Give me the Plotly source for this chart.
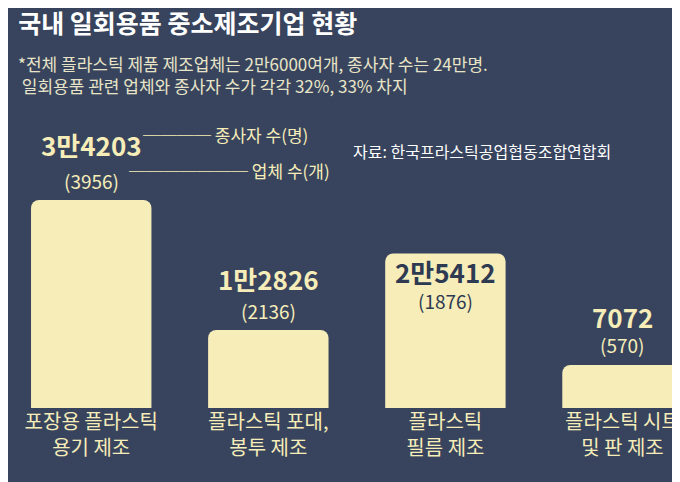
import plotly.graph_objects as go

categories = ["포장용 플라스틱<br>용기 제조", "플라스틱 포대,<br>봉투 제조", "플라스틱<br>필름 제조", "플라스틱 시트<br>및 판 제조"]
workers = [34203, 12826, 25412, 7072]
worker_labels = ["3만4203", "1만2826", "2만5412", "7072"]
companies = [3956, 2136, 1876, 570]

cream = "#f6edb9"
bg = "#38445d"
font = "Noto Sans CJK KR"

fig = go.Figure(go.Bar(
    x=list(range(len(categories))), y=workers, width=0.68,
    marker=dict(color=cream, cornerradius=8, line=dict(width=0)),
    hoverinfo="skip",
))

# label offsets (px) for value / count per bar, and text color
shifts = [(56, 20), (52, 20), (-18, -47), (48, 20)]
colors = [cream, cream, "#2e3a52", cream]
for i, (w, c) in enumerate(zip(worker_labels, companies)):
    fig.add_annotation(x=i, y=workers[i], text="<b>" + w + "</b>", showarrow=False,
                       yshift=shifts[i][0], font=dict(size=26, color=colors[i], family=font))
    fig.add_annotation(x=i, y=workers[i], text="(" + str(c) + ")", showarrow=False,
                       yshift=shifts[i][1], font=dict(size=19, color=colors[i], family=font))

fig.add_annotation(xref="paper", yref="paper", x=0.195, y=1.065, xanchor="left", showarrow=False,
                   text="──── 종사자 수(명)", font=dict(size=17, color=cream, family=font))
fig.add_annotation(xref="paper", yref="paper", x=0.175, y=0.935, xanchor="left", showarrow=False,
                   text="─────── 업체 수(개)", font=dict(size=17, color=cream, family=font))
fig.add_annotation(xref="paper", yref="paper", x=0.505, y=1.005, xanchor="left", showarrow=False,
                   text="자료: 한국프라스틱공업협동조합연합회", font=dict(size=16, color="white", family=font))

fig.update_layout(
    width=680, height=482, margin=dict(l=0, r=0, t=130, b=82),
    paper_bgcolor=bg, plot_bgcolor=bg, showlegend=False,
    title=dict(text="<b>국내 일회용품 중소제조기업 현황</b>", x=0.015, xanchor="left", y=0.985, yanchor="top",
               font=dict(size=25, color="white", family=font)),
    xaxis=dict(range=[-0.47, 3.37], tickvals=list(range(len(categories))), ticktext=categories,
               showgrid=False, zeroline=False, showline=False,
               tickfont=dict(size=20, color=cream, family=font)),
    yaxis=dict(range=[0, 44400], visible=False),
)
fig.add_annotation(xref="paper", yref="paper", x=0.012, y=1.33, xanchor="left", yanchor="top",
                   showarrow=False, align="left",
                   text="*전체 플라스틱 제품 제조업체는 2만6000여개, 종사자 수는 24만명.<br> 일회용품 관련 업체와 종사자 수가 각각 32%, 33% 차지",
                   font=dict(size=17, color="#e8e4c8", family=font))

fig.write_html("out.html")
